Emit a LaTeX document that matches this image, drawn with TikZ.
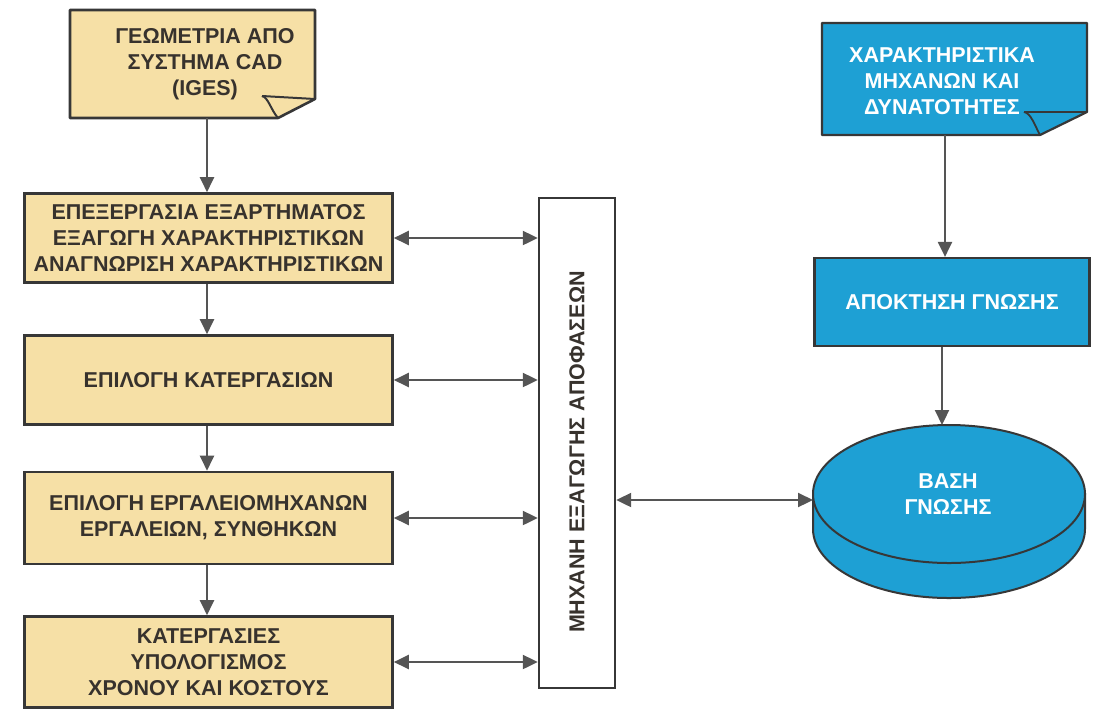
\documentclass[tikz,border=0pt]{standalone}
\usepackage{fontspec}
\setmainfont{Liberation Sans}
\usetikzlibrary{arrows.meta}
\definecolor{beige}{RGB}{246,224,166}
\definecolor{sky}{RGB}{30,160,212}
\definecolor{edge}{RGB}{55,55,55}
\definecolor{arr}{RGB}{85,85,85}
\definecolor{txt}{RGB}{55,50,45}
\tikzset{
  lbl/.style={font=\bfseries\fontsize{21.5}{26}\selectfont, align=center, inner sep=0pt},
  beigebox/.style={lbl, draw=edge, line width=2.6pt, fill=beige, text=txt},
  bluebox/.style={lbl, draw=edge, line width=2.2pt, fill=sky, text=white},
  flow/.style={draw=arr, line width=2.2pt, -{Triangle[length=15pt,width=14pt]}},
  both/.style={draw=arr, line width=2.2pt, {Triangle[length=15pt,width=14pt]}-{Triangle[length=15pt,width=14pt]}},
}
\begin{document}
\begin{tikzpicture}[x=1pt,y=-1pt]
\useasboundingbox (0,0) rectangle (1099,724);
% CAD document
\path[draw=edge, line width=2.6pt, fill=beige, line join=round]
  (70,10) -- (315,10) -- (315,99) -- (278,118) -- (70,118) -- cycle;
\draw[edge, line width=2pt] (262,96) .. controls (268,97) and (271,110) .. (278,118);
\draw[edge, line width=2pt] (262,96) -- (315,99);
\node[lbl, text=txt] (cad) at (205,64)
  {ΓΕΩΜΕΤΡΙΑ ΑΠΟ\\ΣΥΣΤΗΜΑ CAD\\(IGES)};
\coordinate (cadb) at (207,118);
% left column boxes
\node[beigebox, minimum width=368pt, minimum height=89pt] (b2) at (208.5,238)
  {ΕΠΕΞΕΡΓΑΣΙΑ ΕΞΑΡΤΗΜΑΤΟΣ\\ΕΞΑΓΩΓΗ ΧΑΡΑΚΤΗΡΙΣΤΙΚΩΝ\\ΑΝΑΓΝΩΡΙΣΗ ΧΑΡΑΚΤΗΡΙΣΤΙΚΩΝ};
\node[beigebox, minimum width=368pt, minimum height=89pt] (b3) at (208.5,380)
  {ΕΠΙΛΟΓΗ ΚΑΤΕΡΓΑΣΙΩΝ};
\node[beigebox, minimum width=368pt, minimum height=92pt] (b4) at (208.5,518)
  {ΕΠΙΛΟΓΗ ΕΡΓΑΛΕΙΟΜΗΧΑΝΩΝ\\ΕΡΓΑΛΕΙΩΝ, ΣΥΝΘΗΚΩΝ};
\node[beigebox, minimum width=368pt, minimum height=91pt] (b5) at (208.5,662)
  {ΚΑΤΕΡΓΑΣΙΕΣ\\ΥΠΟΛΟΓΙΣΜΟΣ\\ΧΡΟΝΟΥ ΚΑΙ ΚΟΣΤΟΥΣ};
% decision engine
\node[draw=edge, line width=2.4pt, fill=white, minimum width=76pt, minimum height=490pt, inner sep=0pt] (eng) at (577,443) {};
\node[lbl, rotate=90, text=txt] (engt) at (577,452) {ΜΗΧΑΝΗ ΕΞΑΓΩΓΗΣ ΑΠΟΦΑΣΕΩΝ};
% blue document
\path[draw=edge, line width=2.2pt, fill=sky, line join=round]
  (822,23) -- (1087,23) -- (1087,112) -- (1040,135) -- (822,135) -- cycle;
\draw[edge, line width=1.8pt] (1024,112) .. controls (1031,113) and (1035,126) .. (1040,135);
\draw[edge, line width=1.8pt] (1024,112) -- (1087,112);
\node[lbl, text=white] (car) at (942,81)
  {ΧΑΡΑΚΤΗΡΙΣΤΙΚΑ\\ΜΗΧΑΝΩΝ ΚΑΙ\\ΔΥΝΑΤΟΤΗΤΕΣ};
\coordinate (carb) at (945,135);
% knowledge acquisition
\node[bluebox, minimum width=275pt, minimum height=88pt] (acq) at (952,302) {ΑΠΟΚΤΗΣΗ ΓΝΩΣΗΣ};
% knowledge base cylinder
\path[fill=sky, draw=edge, line width=2pt] (813,494) -- (813,529) arc[start angle=180, end angle=360, x radius=136pt, y radius=69pt] -- (1085,494) -- cycle;
\path[fill=sky, draw=edge, line width=2pt] (949,494) ellipse [x radius=136pt, y radius=69pt];
\node[lbl, text=white] (kb) at (948,494) {ΒΑΣΗ\\ΓΝΩΣΗΣ};
\coordinate (kbt) at (942,425);
\coordinate (kbl) at (813,500);
% connectors
\draw[flow] (cadb) -- (b2.north -| cadb);
\draw[flow] (b2.south -| cadb) -- (b3.north -| cadb);
\draw[flow] (b3.south -| cadb) -- (b4.north -| cadb);
\draw[flow] (b4.south -| cadb) -- (b5.north -| cadb);
\draw[both] (b2.east) -- (b2.east -| eng.west);
\draw[both] (b3.east) -- (b3.east -| eng.west);
\draw[both] (b4.east) -- (b4.east -| eng.west);
\draw[both] (b5.east) -- (b5.east -| eng.west);
\draw[both] (eng.east |- kbl) -- (kbl);
\draw[flow] (carb) -- (acq.north -| carb);
\draw[flow] (acq.south -| kbt) -- (kbt);
\end{tikzpicture}
\end{document}
